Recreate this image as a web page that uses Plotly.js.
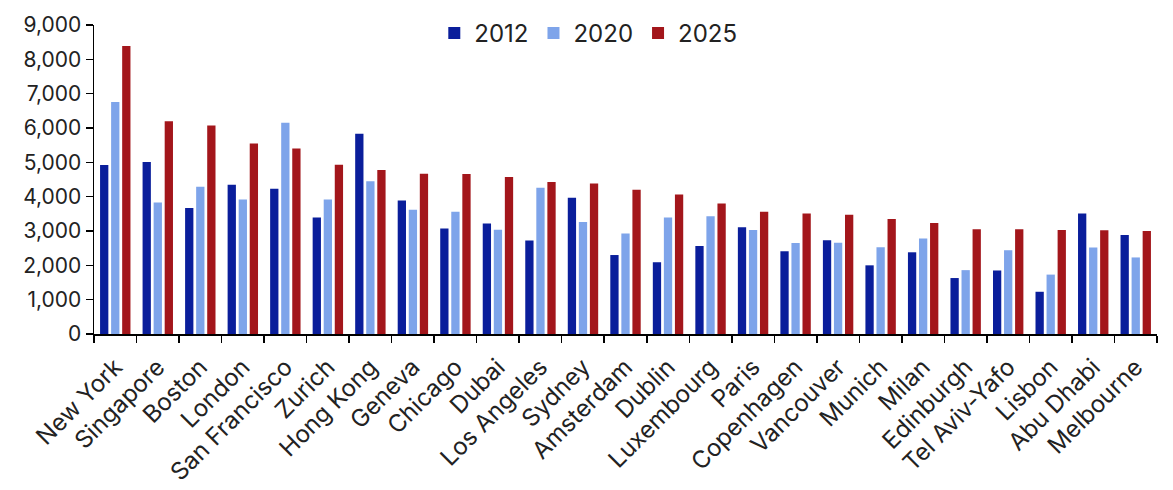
<!DOCTYPE html>
<html>
<head>
<meta charset="utf-8">
<script src="https://cdn.plot.ly/plotly-3.0.1.min.js"></script>
<style>html,body{margin:0;padding:0;background:#fff;}#chart{width:1173px;height:490px;}</style>
</head>
<body>
<div id="chart"></div>
<script>
const cities = ["New York","Singapore","Boston","London","San Francisco","Zurich","Hong Kong","Geneva","Chicago","Dubai","Los Angeles","Sydney","Amsterdam","Dublin","Luxembourg","Paris","Copenhagen","Vancouver","Munich","Milan","Edinburgh","Tel Aviv-Yafo","Lisbon","Abu Dhabi","Melbourne"];
const v2012 = [4920,5010,3670,4350,4230,3390,5830,3890,3070,3220,2720,3970,2300,2090,2560,3110,2410,2730,2000,2380,1630,1850,1230,3510,2880];
const v2020 = [6760,3830,4290,3920,6150,3920,4450,3620,3560,3040,4260,3260,2930,3390,3430,3030,2650,2660,2530,2780,1860,2440,1730,2520,2230];
const v2025 = [8390,6200,6070,5550,5400,4930,4780,4670,4660,4570,4430,4380,4200,4060,3800,3560,3510,3470,3350,3230,3050,3050,3030,3020,3000];
const seriesNames = ["2012","2020","2025"];
const yTicks = [0,1000,2000,3000,4000,5000,6000,7000,8000,9000];

const colors = ["#0a1e9b","#7ea4ea","#a3161b"];
const vals = [v2012, v2020, v2025];
const data = seriesNames.map((n,i)=>({
  type:"bar", name:n, x:cities, y:vals[i],
  marker:{color:colors[i], line:{width:0}}
}));
const fam = "Inter, Liberation Sans, Arial, sans-serif";
const layout = {
  width:1173, height:490,
  margin:{l:94, r:16, t:24, b:156},
  paper_bgcolor:"#fff", plot_bgcolor:"#fff",
  font:{family:fam, size:21, color:"#222"},
  barmode:"group", bargap:0.22, bargroupgap:0.25,
  showlegend:true,
  legend:{orientation:"h", x:0.465, xanchor:"center", y:0.97, yanchor:"middle",
    font:{family:fam, size:24, color:"#222"}, bgcolor:"rgba(0,0,0,0)", itemwidth:30},
  xaxis:{type:"category", showline:true, linecolor:"#000", linewidth:1.5,
    ticks:"outside", tickson:"boundaries", ticklen:7, tickcolor:"#000", tickwidth:1.5,
    tickangle:-45, tickfont:{family:fam, size:24, color:"#222"}, ticklabelstandoff:8,
    showgrid:false, zeroline:false, automargin:false},
  yaxis:{range:[0,9000], tickvals:yTicks, tickformat:",", showline:true, linecolor:"#000", linewidth:1.5,
    ticks:"outside", ticklen:7, tickcolor:"#000", tickwidth:1.5, showgrid:false, zeroline:false,
    tickfont:{family:fam, size:21, color:"#222"}, automargin:false}
};
Plotly.newPlot("chart", data, layout, {displayModeBar:false, staticPlot:true});
</script>
</body>
</html>
